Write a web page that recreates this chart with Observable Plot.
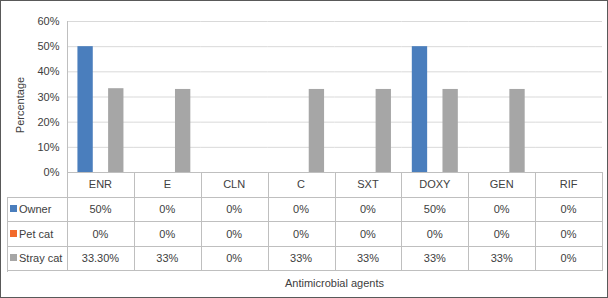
<!DOCTYPE html>
<html><head><meta charset="utf-8">
<script src="https://cdn.jsdelivr.net/npm/d3@7"></script>
<script src="https://cdn.jsdelivr.net/npm/@observablehq/plot@0.6"></script>
<style>
html,body{margin:0;padding:0;background:#fff;}
#wrap{position:relative;width:608px;height:298px;overflow:hidden;font-family:"Liberation Sans",Arial,sans-serif;color:#404040;font-size:11px;background:#fff;}
.a{position:absolute;white-space:nowrap;}
</style></head><body><div id="wrap"></div>
<script>
const agents = ["ENR","E","CLN","C","SXT","DOXY","GEN","RIF"];
const seriesNames = ["Owner","Pet cat","Stray cat"];
const owner = [0.50,0,0,0,0,0.50,0,0];
const petCat = [0,0,0,0,0,0,0,0];
const strayCat = [0.333,0.33,0,0.33,0.33,0.33,0.33,0];
const ownerLabels = ["50%","0%","0%","0%","0%","50%","0%","0%"];
const petLabels = ["0%","0%","0%","0%","0%","0%","0%","0%"];
const strayLabels = ["33.30%","33%","0%","33%","33%","33%","33%","0%"];
const colors = ["#4a7ebd","#f2692a","#a6a6a6"];
const yTicks = [0,0.1,0.2,0.3,0.4,0.5,0.6];
const yTitle = "Percentage";
const xTitle = "Antimicrobial agents";

const seriesValues = [owner, petCat, strayCat];
const seriesLabels = [ownerLabels, petLabels, strayLabels];
const data = [];
agents.forEach((a,i)=>seriesNames.forEach((s,j)=>data.push({agent:a, series:s, value:seriesValues[j][i]})));

const FONT = '"Liberation Sans",Arial,sans-serif';
const chart = Plot.plot({
  width: 608, height: 298,
  marginTop: 21, marginLeft: 67, marginRight: 6, marginBottom: 126,
  style: {fontFamily: FONT, fontSize: "11px", color: "#404040", background: "transparent"},
  fx: {domain: agents, padding: 0, axis: null, round: false},
  x: {domain: seriesNames, paddingInner: 0, paddingOuter: 0.68, axis: null, round: false},
  y: {domain: [0,0.6], ticks: yTicks, tickFormat: d3.format(".0%"), tickSize: 0, tickPadding: 8, label: null},
  color: {domain: seriesNames, range: colors},
  marks: [
    Plot.gridY(yTicks, {stroke: "#d9d9d9", strokeOpacity: 1}),
    Plot.barY(data, {fx: "agent", x: "series", y: "value", fill: "series"}),
    Plot.ruleY([0], {stroke: "#bfbfbf"})
  ]
});
const wrap = document.getElementById("wrap");
chart.style.position = "absolute";
chart.style.left = "0px";
chart.style.top = "0px";
wrap.appendChild(chart);

const fx = chart.scale("fx");
const ysc = chart.scale("y");
const bw = fx.bandwidth;
const plotLeft = fx.apply(agents[0]);
const plotRight = fx.apply(agents[agents.length-1]) + bw;
const plotTop = ysc.apply(0.6);
const plotBottom = ysc.apply(0);

function div(cls, css, text){
  const d = document.createElement("div");
  d.className = cls;
  Object.assign(d.style, css);
  if (text != null) d.textContent = text;
  wrap.appendChild(d);
  return d;
}
const LC = "#bfbfbf";
function hline(x1,x2,y){ div("a",{left:Math.round(x1)+"px",top:Math.round(y)+"px",width:Math.round(x2-x1)+"px",height:"1px",background:LC}); }
function vline(x,y1,y2){ div("a",{left:Math.round(x)+"px",top:Math.round(y1)+"px",width:"1px",height:Math.round(y2-y1)+"px",background:LC}); }

// table geometry
const rowH = 24.6;
const rows = [0,1,2,3,4].map(i=>plotBottom+i*rowH);
const tableLeft = 7;
// y axis line
vline(plotLeft, plotTop, rows[4]);
for (let i=1;i<=4;i++) hline(tableLeft, plotRight+1, rows[i]);
vline(tableLeft, rows[1], rows[4]+1);
agents.forEach((a,i)=>vline(fx.apply(a)+bw, rows[0], rows[4]));

function centerText(txt, cx, cy){
  div("a",{left:(cx-40)+"px",width:"80px",textAlign:"center",top:(cy-7)+"px",lineHeight:"14px"}, txt);
}
agents.forEach((a,i)=>{
  const cx = fx.apply(a)+bw/2;
  centerText(a, cx, (rows[0]+rows[1])/2);
  seriesLabels.forEach((labs,j)=>centerText(labs[i], cx, (rows[j+1]+rows[j+2])/2));
});
seriesNames.forEach((s,j)=>{
  const cy = (rows[j+1]+rows[j+2])/2;
  div("a",{left:"10px",top:(Math.round(cy)-4)+"px",width:"7px",height:"7px",background:colors[j]});
  div("a",{left:"19px",top:(cy-7)+"px",lineHeight:"14px"}, s);
});

// titles
div("a",{left:((plotLeft+plotRight)/2-100)+"px",width:"200px",textAlign:"center",top:"276px",lineHeight:"14px"}, xTitle);
div("a",{left:"-30px",width:"100px",textAlign:"center",top:"98px",lineHeight:"14px",transform:"rotate(-90deg)"}, yTitle);

// outer border
div("a",{left:"0px",top:"0px",width:"608px",height:"298px",boxSizing:"border-box",border:"1px solid #595959"});
</script></body></html>
